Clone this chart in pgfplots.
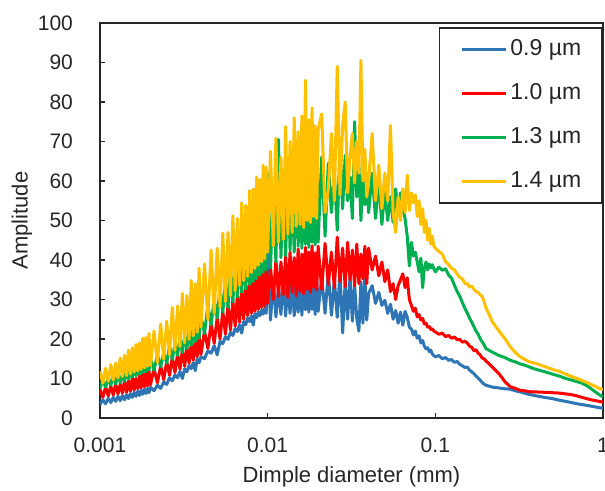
\documentclass[border=0pt]{standalone}
\usepackage{fontspec}
\setmainfont{Liberation Sans}
\usepackage{pgfplots}
\usepackage{pgfplotstable}
\pgfplotsset{compat=1.18}

\definecolor{c09}{RGB}{46,117,182}
\definecolor{c10}{RGB}{255,0,0}
\definecolor{c13}{RGB}{0,176,80}
\definecolor{c14}{RGB}{255,192,0}

% dimple diameter (mm) and amplitude of the four series
\pgfplotstableread{
d a09 a10 a13 a14
0.00100 3.4 7.3 7.5 11.8
0.00104 4.6 5.2 9.6 8.8
0.00108 3.6 7.9 7.8 12.6
0.00112 5.0 5.6 9.9 9.3
0.00116 3.9 8.1 8.3 13.5
0.00120 5.2 5.8 10.8 9.6
0.00124 4.2 8.7 8.6 13.9
0.00128 5.5 6.1 11.3 10.1
0.00132 4.4 8.6 8.9 15.2
0.00136 5.7 6.3 11.0 10.5
0.00140 4.6 9.5 9.3 15.9
0.00144 5.9 6.5 12.4 10.7
0.00148 4.9 9.4 9.9 17.2
0.00152 6.2 6.8 12.2 11.1
0.00156 5.2 10.2 10.4 17.8
0.00160 6.5 7.1 13.4 11.6
0.00164 5.5 10.0 10.7 18.6
0.00168 6.8 7.4 13.0 11.9
0.00172 5.7 11.0 11.0 19.0
0.00176 7.0 7.6 14.2 12.3
0.00180 6.0 11.2 11.5 20.2
0.00184 7.3 7.9 13.8 12.7
0.00188 6.2 11.6 11.7 20.4
0.00192 7.5 8.1 14.9 13.1
0.00196 6.4 11.9 12.1 21.4
0.0020 7.8 8.4 15.0 13.3
0.0021 6.9 12.5 12.1 22.0
0.0022 8.3 8.9 16.0 14.0
0.0023 7.5 13.2 13.0 23.8
0.0024 9.1 9.7 16.4 14.9
0.0025 8.5 14.3 13.9 24.5
0.0026 10.2 10.8 18.2 16.0
0.0027 9.4 15.4 14.9 28.0
0.0028 10.9 11.5 18.8 17.1
0.0029 10.2 16.2 15.8 28.4
0.0030 11.8 12.4 20.3 18.1
0.0031 10.0 17.3 16.6 31.5
0.0032 12.5 13.1 20.9 19.0
0.0033 11.7 17.9 17.6 31.0
0.0034 13.3 13.9 22.4 19.9
0.0035 12.5 18.8 18.4 34.8
0.0036 14.0 14.6 22.8 20.8
0.0037 12.0 19.9 19.3 34.0
0.0038 14.9 15.5 25.0 21.7
0.0039 14.0 20.8 20.2 37.9
0.0040 15.5 16.1 25.8 23.0
0.0042 15.0 22.0 21.4 39.0
0.0044 17.0 17.6 28.5 24.8
0.0046 16.4 24.0 23.6 42.5
0.0048 18.3 18.9 30.0 26.5
0.0050 16.0 25.5 25.3 43.0
0.0052 19.4 20.0 33.0 28.0
0.0054 18.8 27.0 26.8 46.8
0.0056 20.6 21.2 34.2 29.5
0.0058 19.9 28.6 28.0 47.0
0.0060 21.7 22.3 37.8 31.0
0.0062 20.9 29.8 29.4 51.2
0.0064 22.6 23.2 38.5 32.2
0.0066 21.9 31.2 30.6 50.5
0.0068 23.6 24.2 42.0 33.6
0.0070 21.5 32.5 31.8 54.5
0.0072 24.4 25.0 42.5 34.8
0.0074 23.6 33.6 32.6 53.8
0.0076 25.3 25.9 46.0 35.8
0.0078 24.4 34.8 33.8 57.6
0.0080 25.9 26.5 46.5 36.8
0.0082 23.5 35.4 34.5 58.0
0.0084 26.4 27.0 49.5 37.8
0.0086 25.4 36.2 35.3 61.0
0.0088 26.9 27.5 49.0 38.7
0.0090 25.9 36.9 36.1 60.4
0.0092 27.3 27.9 52.8 39.5
0.0094 26.3 37.6 36.8 64.0
0.0096 27.7 28.3 53.5 40.3
0.0098 26.5 38.0 37.5 63.5
0.0100 41.8 29.0 62.0 42.0
0.0104 24.8 38.2 38.0 67.5
0.0108 35.0 30.0 57.0 43.5
0.0112 25.6 40.0 39.5 70.8
0.0116 33.0 30.8 70.5 44.5
0.0120 26.2 39.5 40.6 66.0
0.0124 36.0 31.2 60.0 45.2
0.0128 25.8 41.2 41.0 73.8
0.0132 34.2 30.5 64.0 46.5
0.0136 26.5 42.0 42.5 70.0
0.0140 35.5 31.8 58.5 47.0
0.0144 25.9 40.6 42.0 76.0
0.0148 33.8 30.9 66.0 48.5
0.0152 26.8 42.8 43.5 72.5
0.0156 36.2 32.0 62.0 49.0
0.0160 26.0 41.5 43.0 76.5
0.0164 34.5 31.4 68.5 48.2
0.0168 27.4 43.2 44.0 85.5
0.0172 35.8 32.5 61.5 50.0
0.0176 26.8 42.0 43.2 75.5
0.0180 36.5 31.8 69.0 49.5
0.0184 27.5 43.6 44.5 78.5
0.0188 34.8 33.0 63.0 51.0
0.0192 26.2 41.8 43.8 74.0
0.0196 36.8 32.4 70.2 50.5
0.020 27.0 43.5 44.5 73.0
0.021 35.5 32.5 66.0 77.0
0.022 26.5 44.2 46.0 52.0
0.023 36.8 33.8 64.5 58.0
0.024 26.0 42.0 52.0 72.0
0.025 35.0 33.0 62.0 55.0
0.026 25.5 45.8 47.5 89.0
0.027 37.0 34.5 69.0 56.5
0.028 21.5 43.0 53.0 74.0
0.029 34.5 33.2 66.5 80.0
0.030 25.0 44.5 55.0 57.0
0.031 36.0 35.0 61.0 66.0
0.032 24.5 42.5 50.5 72.0
0.033 33.8 33.5 75.0 59.5
0.034 25.2 44.0 56.0 70.0
0.035 22.0 34.0 64.0 62.0
0.036 34.5 41.5 50.0 90.5
0.037 24.0 35.2 62.0 60.0
0.038 35.5 43.5 54.0 68.0
0.039 24.8 34.0 60.5 56.0
0.040 31.5 43.0 52.0 60.0
0.042 33.5 37.5 62.0 72.0
0.044 29.0 41.0 50.5 55.0
0.046 31.8 36.0 60.0 64.0
0.048 28.5 39.5 49.0 53.0
0.050 29.8 34.5 57.5 62.0
0.052 26.5 37.5 50.0 55.0
0.054 28.8 32.0 56.0 74.0
0.056 25.0 34.0 49.5 52.0
0.058 27.2 30.0 58.0 47.0
0.060 24.0 33.5 52.0 56.0
0.062 26.8 35.0 57.0 50.0
0.064 23.5 36.5 53.0 58.0
0.066 27.0 33.0 50.5 52.0
0.068 25.5 35.5 46.0 61.5
0.070 23.0 30.0 38.5 52.5
0.072 22.5 28.5 44.5 57.0
0.074 21.0 27.0 41.0 54.5
0.076 22.0 27.8 42.0 56.5
0.078 20.2 25.6 39.5 51.0
0.080 20.8 26.2 37.0 55.0
0.082 19.0 24.8 40.5 49.0
0.084 19.6 25.2 33.0 53.0
0.086 18.2 23.8 38.0 47.0
0.088 17.5 24.0 39.5 50.0
0.090 17.8 23.0 37.5 45.0
0.092 16.8 23.2 39.0 48.0
0.094 17.2 22.4 38.0 44.0
0.096 16.2 22.6 38.8 46.0
0.098 15.8 22.0 37.8 43.5
0.100 15.5 21.8 37.0 43.0
0.105 15.8 21.2 38.2 42.2
0.110 15.0 21.5 37.4 41.5
0.115 15.3 20.6 37.8 39.6
0.120 14.6 20.9 36.2 38.8
0.125 14.8 20.2 35.4 37.9
0.130 14.1 20.5 33.6 37.5
0.135 14.3 19.8 32.0 36.4
0.140 13.6 19.9 30.8 35.6
0.145 13.2 19.2 29.2 35.2
0.150 12.8 19.4 27.8 34.1
0.155 12.9 19.0 26.6 34.0
0.160 12.1 18.2 25.3 33.2
0.165 11.7 17.9 24.2 33.4
0.170 11.2 17.0 23.1 32.6
0.175 10.6 17.3 22.0 32.0
0.180 10.1 16.4 21.2 31.8
0.185 9.6 16.0 20.1 31.2
0.190 9.0 15.2 19.3 30.8
0.195 8.6 15.0 18.6 29.6
0.20 8.3 14.5 17.6 28.0
0.22 7.8 12.8 16.6 24.2
0.24 7.6 11.2 15.8 22.0
0.26 7.4 9.2 15.3 20.1
0.28 7.3 7.9 14.6 18.0
0.30 6.9 7.5 14.2 16.6
0.32 6.6 7.0 13.7 15.5
0.34 6.3 6.9 13.4 14.9
0.36 6.0 6.7 13.0 14.3
0.38 5.8 6.6 12.6 14.0
0.40 5.6 6.6 12.3 13.8
0.45 5.2 6.5 11.7 13.0
0.50 4.9 6.4 11.1 12.3
0.55 4.5 6.3 10.6 11.8
0.60 4.2 6.1 10.0 11.1
0.65 3.9 5.9 9.6 10.5
0.70 3.6 5.6 9.2 10.0
0.75 3.4 5.2 8.8 9.5
0.80 3.2 4.9 8.2 9.0
0.85 3.0 4.6 7.4 8.5
0.90 2.8 4.4 6.6 8.0
0.95 2.6 4.2 5.9 7.5
1.00 2.5 4.0 5.3 7.2
}\spectra

\begin{document}
\begin{tikzpicture}
\begin{axis}[
    at={(0pt,0pt)}, anchor=south west,
    scale only axis,
    width=251.5pt, height=197.5pt,
    xmode=log,
    xmin=0.001, xmax=1,
    ymin=0, ymax=100,
    xtick={0.001,0.01,0.1,1},
    xticklabels={0.001,0.01,0.1,1},
    ytick={0,10,...,100},
    xminorticks=false,
    tick align=inside,
    xtick pos=bottom, ytick pos=left,
    major tick length=2.5pt,
    axis line style={black!85, line width=0.8pt},
    tick style={black!85, line width=0.6pt},
    /pgf/number format/assume math mode=true,
    tick label style={font=\fontsize{10.5}{12}\selectfont, text=black!85},
    yticklabel style={xshift=-10pt},
    xticklabel style={yshift=-6.5pt},
    label style={font=\fontsize{11}{13}\selectfont, text=black!85},
    xlabel={Dimple diameter (mm)},
    ylabel={Amplitude},
    xlabel style={at={(axis description cs:0.5,-0.15)}, anchor=center},
    ylabel style={at={(axis description cs:-0.155,0.5)}, anchor=center},
    legend style={at={(1,0.99)}, anchor=north east,
        draw=black!85, line width=0.8pt, fill=white,
        inner xsep=10.5pt, inner ysep=4pt, row sep=8.5pt,
        font=\fontsize{11.5}{13}\selectfont, text=black!85,
        nodes={inner xsep=0pt},
        /tikz/every odd column/.append style={column sep=1.5pt},
        cells={anchor=west}},
    legend image code/.code={\draw[#1] (0pt,0pt) -- (22pt,0pt);},
]
\addplot[c09, line width=1.5pt, line join=round] table[x=d, y=a09] {\spectra};
\addplot[c10, line width=1.5pt, line join=round] table[x=d, y=a10] {\spectra};
\addplot[c13, line width=1.5pt, line join=round] table[x=d, y=a13] {\spectra};
\addplot[c14, line width=1.5pt, line join=round] table[x=d, y=a14] {\spectra};
\legend{0.9 µm, 1.0 µm, 1.3 µm, 1.4 µm}
\end{axis}
\pgfresetboundingbox
\useasboundingbox (-50pt,-36.5pt) rectangle (252.5pt,209pt);
\end{tikzpicture}
\end{document}
